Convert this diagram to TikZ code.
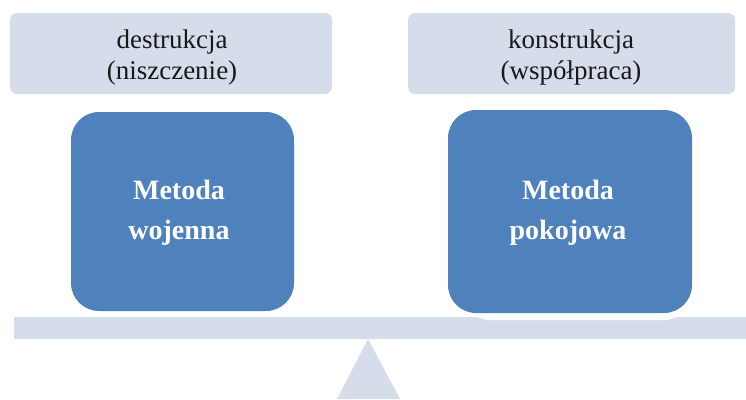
\documentclass[tikz,border=0pt]{standalone}
\usepackage{fontspec}
\setmainfont{Liberation Serif}
\definecolor{paleblue}{HTML}{D5DCEA}
\definecolor{midblue}{HTML}{4F81BD}
\begin{document}
\begin{tikzpicture}[x=1pt,y=-1pt,
  labelbox/.style={fill=paleblue, draw=none, rounded corners=7pt},
  methodbox/.style={fill=midblue, draw=none, rounded corners=28pt},
  toptext/.style={align=center, font=\fontsize{27}{31}\selectfont, text=black!90},
  boldtext/.style={align=center, font=\fontsize{28}{40}\selectfont\bfseries, text=white},
  support/.style={fill=paleblue, draw=none}]
\useasboundingbox (0,0) rectangle (746,399);
% scale beam and fulcrum
\fill[support] (14,317) rectangle (746,339);
\fill[support] (368,339) -- (400,399) -- (337,399) -- cycle;
% upper label boxes
\fill[labelbox] (10,13) rectangle (332,94);
\fill[labelbox] (408,13) rectangle (735,94);
\node[toptext] (dest) at (172,58) {destrukcja\\(niszczenie)};
\node[toptext] (kons) at (571,58) {konstrukcja\\(współpraca)};
% method boxes, the right one with a white rim below it
\fill[white, rounded corners=28pt] (462,114) rectangle (692,320);
\fill[methodbox] (71,112) rectangle (294,311);
\fill[methodbox] (448,110) rectangle (692,313);
\node[boldtext] (war) at (179,213) {Metoda\\wojenna};
\node[boldtext] (peace) at (568,213) {Metoda\\pokojowa};
\end{tikzpicture}
\end{document}
